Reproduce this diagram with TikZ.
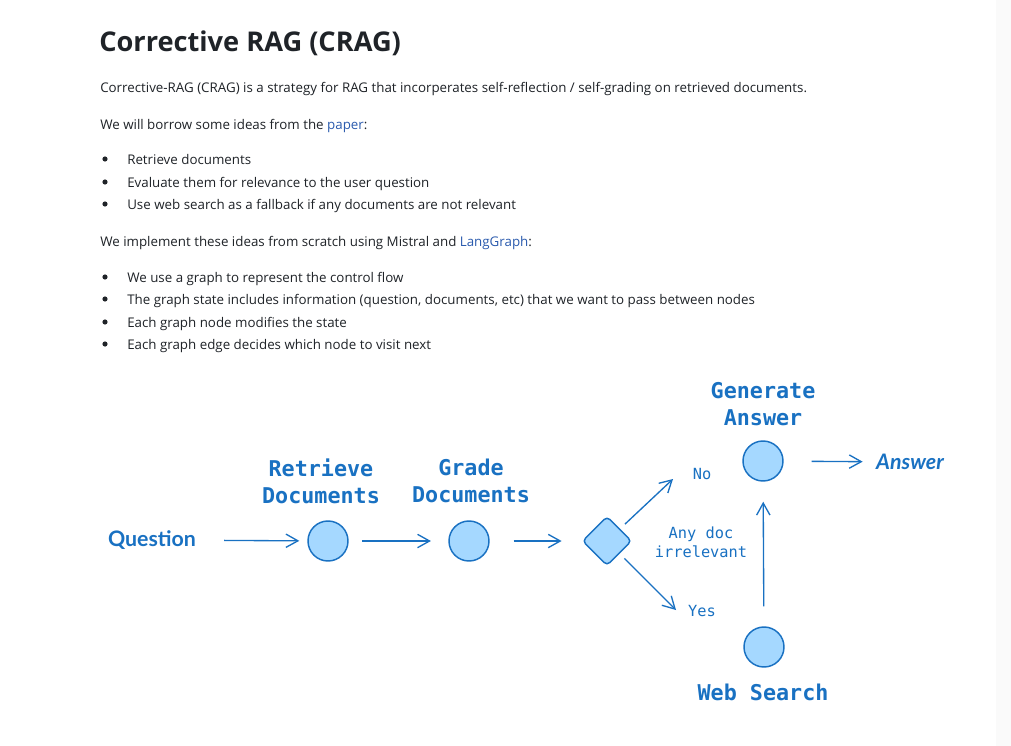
\documentclass[tikz,border=0pt]{standalone}
\usepackage{fontspec}
\setmainfont{Open Sans}
\setmonofont{DejaVu Sans Mono}
\newfontfamily\handfont{Lato}
\usetikzlibrary{arrows.meta,shapes.geometric}
\definecolor{ink}{HTML}{1F2328}
\definecolor{linkblue}{HTML}{2B5BAE}
\definecolor{xblue}{HTML}{1971C2}
\definecolor{xfill}{HTML}{A5D8FF}
\definecolor{sidebar}{HTML}{FAFAFA}
\tikzset{
  headline/.style={anchor=base west,inner sep=0pt,text=ink,
                   font=\fontsize{20.4}{24}\selectfont\bfseries},
  para/.style={anchor=base west,inner sep=0pt,text=ink,
               font=\fontsize{10}{12}\selectfont},
  bulletdot/.style={circle,fill=ink,inner sep=0pt,minimum size=3.9pt},
  stage/.style={circle,draw=xblue,fill=xfill,line width=1.1pt,minimum size=30pt,
                inner sep=0pt},
  decide/.style={diamond,draw=xblue,fill=xfill,line width=1.1pt,rounded corners=3pt,
                 minimum width=37pt,minimum height=37pt,inner sep=0pt},
  stagelabel/.style={align=center,text=xblue,inner sep=0pt,
                     font=\fontsize{16.3}{20}\selectfont\ttfamily\bfseries},
  edgelabel/.style={align=center,text=xblue,inner sep=0pt,
                    font=\fontsize{11.5}{14.5}\selectfont\ttfamily},
  hand/.style={text=xblue,inner sep=0pt,font=\fontsize{16}{19}\selectfont\handfont\bfseries},
  flow/.style={draw=xblue,line width=1pt,-{Straight Barb[length=9pt,width=10pt]}}
}
\begin{document}
\begin{tikzpicture}[x=0.75pt,y=-0.75pt]
  \path[use as bounding box,fill=white] (0,0) rectangle (1011,746);
  \fill[sidebar] (996,0) rectangle (1011,746);

  % text above the figure
  \node[headline] (title) at (99,51) {Corrective RAG (CRAG)};
  \node[para] (intro) at (100,92) {Corrective-RAG (CRAG) is a strategy for RAG that incorperates self-reflection / self-grading on retrieved documents.};
  \node[para] (borrow) at (100,129) {We will borrow some ideas from the \textcolor{linkblue}{paper}:};
  \node[para] (itemA) at (127,164) {Retrieve documents};
  \node[para] (itemB) at (127,187) {Evaluate them for relevance to the user question};
  \node[para] (itemC) at (127,209) {Use web search as a fallback if any documents are not relevant};
  \node[para] (implement) at (100,246) {We implement these ideas from scratch using Mistral and \textcolor{linkblue}{LangGraph}:};
  \node[para] (itemD) at (127,282) {We use a graph to represent the control flow};
  \node[para] (itemE) at (127,304) {The graph state includes information (question, documents, etc) that we want to pass between nodes};
  \node[para] (itemF) at (127,327) {Each graph node modifies the state};
  \node[para] (itemG) at (127,349) {Each graph edge decides which node to visit next};
  \node[bulletdot] (dotA) at (105,159) {};
  \node[bulletdot] (dotB) at (105,182) {};
  \node[bulletdot] (dotC) at (105,204) {};
  \node[bulletdot] (dotD) at (105,277) {};
  \node[bulletdot] (dotE) at (105,299) {};
  \node[bulletdot] (dotF) at (105,322) {};
  \node[bulletdot] (dotG) at (105,344) {};

  % the graph
  \node[hand] (question) at (152,540) {Question};
  \node[stage] (retrieve) at (328,541) {};
  \node[stage] (grade) at (469,541) {};
  \node[decide] (dec) at (607,541) {};
  \node[stage] (gen) at (763,461) {};
  \node[stage] (web) at (764,647) {};
  \node[hand,font=\fontsize{16}{19}\selectfont\handfont\bfseries\itshape] (answer) at (910,462) {Answer};

  \node[stagelabel] (retrievelbl) at (321,481) {Retrieve\\Documents};
  \node[stagelabel] (gradelbl) at (471,481) {Grade\\Documents};
  \node[stagelabel] (genlbl) at (763,404) {Generate\\Answer};
  \node[stagelabel] (weblbl) at (763,692) {Web Search};
  \node[edgelabel] (nolbl) at (702,474) {No};
  \node[edgelabel] (yeslbl) at (702,611) {Yes};
  \node[edgelabel] (condlbl) at (701,542) {Any doc\\irrelevant};

  \coordinate (noend) at (673,479);
  \coordinate (yesend) at (676,610);

  \draw[flow,shorten <=21pt,shorten >=6pt] (question) -- (retrieve);
  \draw[flow,shorten <=10pt,shorten >=13pt] (retrieve) -- (grade);
  \draw[flow,shorten <=18pt,shorten >=15pt] (grade) -- (dec);
  \draw[flow,shorten <=5pt] (dec) -- (noend);
  \draw[flow,shorten <=5pt] (dec) -- (yesend);
  \draw[flow,shorten <=15pt,shorten >=15pt] (web) -- (gen);
  \draw[flow,shorten <=21pt,shorten >=10pt] (gen) -- (answer);
\end{tikzpicture}
\end{document}
